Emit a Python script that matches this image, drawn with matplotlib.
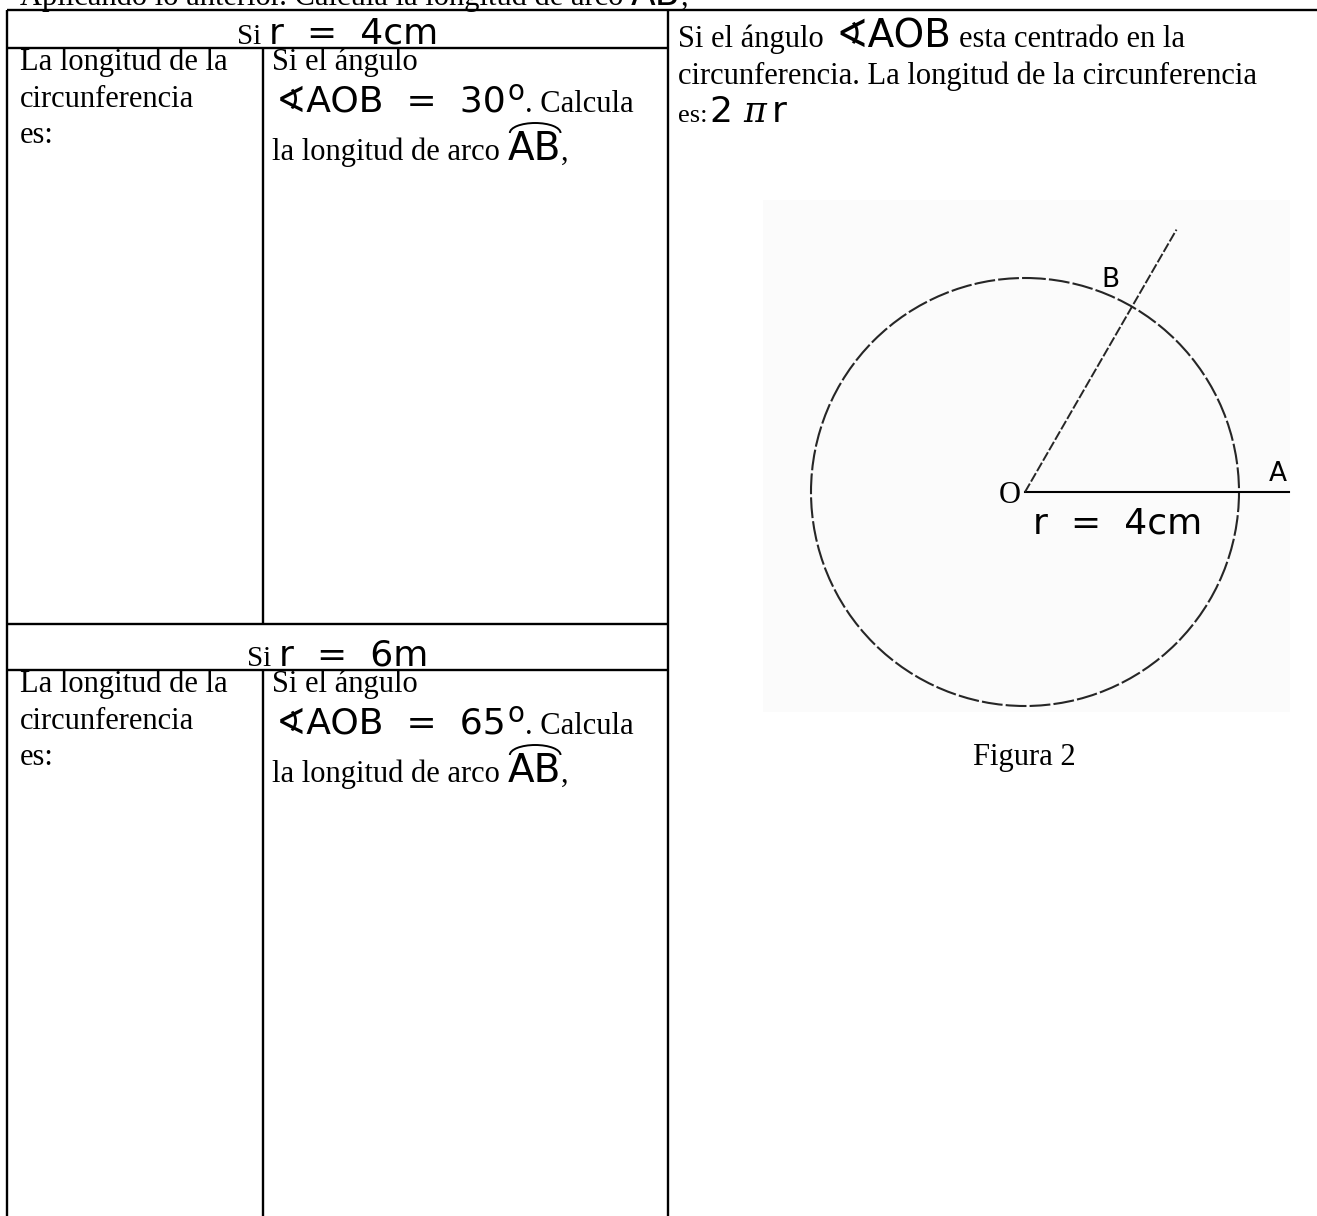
import matplotlib
matplotlib.use("Agg")
import matplotlib.pyplot as plt
import numpy as np
from matplotlib.patches import Circle, Arc, Rectangle

# ---------------- data ----------------
radius_labels = ["4cm", "6m"]
angle_labels = ["30", "65"]
figure_angle_deg = 60          # angle of ray OB drawn in Figura 2
figure_radius_label = "4cm"
point_labels = ["O", "A", "B"]
caption = "Figura 2"

W, H = 1317, 1216
fig = plt.figure(figsize=(W / 100, H / 100), dpi=100)
ax = fig.add_axes([0, 0, 1, 1])
ax.set_xlim(0, W)
ax.set_ylim(H, 0)
ax.axis("off")

SERIF = "Liberation Serif"
SANS = "DejaVu Sans"
fig.canvas.draw()
renderer = fig.canvas.get_renderer()

SER = 22      # serif body text
EQ = 26       # equation (sans) text
SP = "  "     # wide equation spacing


def width(s, family, size, **kw):
    t = ax.text(0, 0, s, family=family, fontsize=size, **kw)
    w = t.get_window_extent(renderer).width
    t.remove()
    return w


def put(x, y, s, family=SERIF, size=SER, **kw):
    t = ax.text(x, y, s, family=family, fontsize=size, va="baseline", ha="left", **kw)
    return x + t.get_window_extent(renderer).width


LW = 1.7


def hline(y, x0, x1):
    ax.plot([x0, x1], [y, y], color="black", lw=LW, solid_capstyle="butt")


def vline(x, y0, y1):
    ax.plot([x, x], [y0, y1], color="black", lw=LW, solid_capstyle="butt")


hline(10, 7, W)
hline(48, 7, 668)
hline(624, 7, 668)
hline(670, 7, 668)
vline(7, 10, H)
vline(668, 10, H)
vline(263, 48, 624)
vline(263, 670, H)

# top line of text, cut by the page edge
xe = put(20, 5, "Aplicando lo anterior. Calcula la longitud de arco ", SERIF, SER)
xe = put(xe, 5, "AB", SANS, EQ)
put(xe, 5, ",", SERIF, SER)


def arc_ab(x, y):
    t = ax.text(x, y, "AB", family=SANS, fontsize=EQ + 2, va="baseline")
    bb = t.get_window_extent(renderer)
    xend = x + bb.width
    ax.add_patch(Arc(((x + xend) / 2 + 1, y - 27), bb.width * 0.95, 20, theta1=180, theta2=360,
                     color="black", lw=1.4))
    return xend


def section(y_top, y_bot, rlabel, alabel):
    # header row: centred "Si r = ..."
    hb = y_bot - 4
    rtxt = "r" + SP + "=" + SP + rlabel
    w1 = width("Si ", SERIF, 21)
    w2 = width(rtxt, SANS, EQ)
    x0 = (7 + 668) / 2 - (w1 + w2) / 2
    xe = put(x0, hb, "Si ", SERIF, 21)
    put(xe, hb, rtxt, SANS, EQ)
    # body
    yb = y_bot
    put(20, yb + 22, "La longitud de la", SERIF, SER)
    put(20, yb + 59, "circunferencia", SERIF, SER)
    put(20, yb + 95, "es:", SERIF, SER)
    put(272, yb + 22, "Si el ángulo", SERIF, SER)
    xe = put(276, yb + 64, "\u2222AOB" + SP + "=" + SP + alabel, SANS, EQ)
    xe = put(xe + 2, yb + 52, "o", SANS, 20)
    put(xe, yb + 64, ". Calcula", SERIF, SER)
    xe = put(272, yb + 112, "la longitud de arco ", SERIF, SER)
    xe = arc_ab(xe, yb + 112)
    put(xe, yb + 112, ",", SERIF, SER)


section(10, 48, radius_labels[0], angle_labels[0])
section(624, 670, radius_labels[1], angle_labels[1])

# right column text
xe = put(678, 47, "Si el ángulo ", SERIF, SER)
xe = put(xe + 4, 47, "\u2222AOB", SANS, 28)
put(xe + 8, 47, "esta centrado en la", SERIF, SER)
put(678, 84, "circunferencia. La longitud de la circunferencia", SERIF, SER)
xe = put(678, 122, "es:", SERIF, 19)
xe = put(xe + 3, 122, "2 ", SANS, EQ)
xe = put(xe - 2, 122, "\u03c0", "DejaVu Serif", 25, style="italic")
put(xe + 6, 122, "r", SANS, EQ)

# Figura 2
ax.add_patch(Rectangle((763, 200), 527, 512, facecolor="#fbfbfb", edgecolor="none", zorder=0))
cx, cy, R = 1025, 492, 214
ax.add_patch(Circle((cx, cy), R, fill=False, edgecolor="#262626", lw=1.5,
                    linestyle=(0, (10, 1.5))))
ax.plot([cx, 1289], [cy, cy], color="black", lw=1.5)
th = np.deg2rad(figure_angle_deg)
L = 303
ax.plot([cx, cx + L * np.cos(th)], [cy, cy - L * np.sin(th)], color="#262626", lw=1.4,
        linestyle=(0, (5, 1.2)))
ax.text(1010, 503, point_labels[0], family=SERIF, fontsize=22, ha="center", va="baseline")
ax.text(1278, 481, point_labels[1], family=SANS, fontsize=19, ha="center", va="baseline")
ax.text(1110, 287, point_labels[2], family=SANS, fontsize=19, ha="center", va="baseline")
ax.text(1118, 533, "r" + SP + "=" + SP + figure_radius_label, family=SANS, fontsize=26,
        ha="center", va="baseline")
ax.text(1024, 765, caption, family=SERIF, fontsize=SER, ha="center", va="baseline")

fig.savefig("out.png", dpi=100)
